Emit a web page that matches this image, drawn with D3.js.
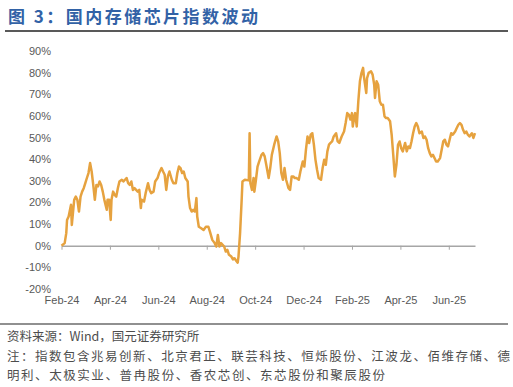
<!DOCTYPE html>
<html><head><meta charset="utf-8">
<script src="https://cdn.jsdelivr.net/npm/d3@7"></script>
<style>
html,body{margin:0;padding:0;background:#fff;}
svg{display:block;}
</style></head>
<body>
<svg id="chart" width="513" height="387"></svg>
<script>
const dates = ["2024-02-14","2024-02-18","2024-02-20","2024-02-21","2024-02-23","2024-02-26","2024-02-27","2024-03-01","2024-03-03","2024-03-05","2024-03-07","2024-03-09","2024-03-11","2024-03-13","2024-03-15","2024-03-17","2024-03-19","2024-03-21","2024-03-23","2024-03-25","2024-03-27","2024-03-29","2024-03-31","2024-04-02","2024-04-04","2024-04-06","2024-04-08","2024-04-11","2024-04-12","2024-04-14","2024-04-16","2024-04-17","2024-04-19","2024-04-21","2024-04-23","2024-04-25","2024-04-27","2024-04-30","2024-05-02","2024-05-04","2024-05-06","2024-05-08","2024-05-10","2024-05-12","2024-05-14","2024-05-16","2024-05-20","2024-05-22","2024-05-24","2024-05-25","2024-05-28","2024-05-30","2024-06-02","2024-06-04","2024-06-06","2024-06-09","2024-06-11","2024-06-14","2024-06-16","2024-06-19","2024-06-21","2024-06-23","2024-06-25","2024-06-27","2024-06-29","2024-07-02","2024-07-04","2024-07-07","2024-07-09","2024-07-11","2024-07-13","2024-07-15","2024-07-17","2024-07-19","2024-07-22","2024-07-23","2024-07-25","2024-07-27","2024-07-29","2024-07-31","2024-08-02","2024-08-03","2024-08-05","2024-08-08","2024-08-11","2024-08-14","2024-08-17","2024-08-19","2024-08-22","2024-08-25","2024-08-27","2024-08-29","2024-08-31","2024-09-02","2024-09-06","2024-09-08","2024-09-10","2024-09-12","2024-09-15","2024-09-17","2024-09-19","2024-09-21","2024-09-23","2024-09-24","2024-09-26","2024-09-28","2024-09-29","2024-10-02","2024-10-07","2024-10-08","2024-10-09","2024-10-11","2024-10-13","2024-10-14","2024-10-16","2024-10-18","2024-10-20","2024-10-23","2024-10-25","2024-10-27","2024-10-29","2024-11-01","2024-11-03","2024-11-05","2024-11-08","2024-11-11","2024-11-13","2024-11-15","2024-11-17","2024-11-19","2024-11-21","2024-11-23","2024-11-26","2024-11-28","2024-11-30","2024-12-02","2024-12-04","2024-12-06","2024-12-09","2024-12-11","2024-12-14","2024-12-16","2024-12-18","2024-12-20","2024-12-22","2024-12-24","2024-12-26","2024-12-28","2024-12-30","2025-01-01","2025-01-03","2025-01-06","2025-01-08","2025-01-10","2025-01-12","2025-01-14","2025-01-16","2025-01-18","2025-01-20","2025-01-22","2025-01-25","2025-01-27","2025-01-29","2025-02-01","2025-02-04","2025-02-06","2025-02-08","2025-02-10","2025-02-12","2025-02-14","2025-02-15","2025-02-17","2025-02-18","2025-02-20","2025-02-22","2025-02-24","2025-02-26","2025-02-28","2025-03-01","2025-03-04","2025-03-05","2025-03-07","2025-03-10","2025-03-12","2025-03-14","2025-03-15","2025-03-17","2025-03-19","2025-03-21","2025-03-23","2025-03-25","2025-03-27","2025-03-29","2025-03-31","2025-04-03","2025-04-05","2025-04-07","2025-04-09","2025-04-11","2025-04-13","2025-04-15","2025-04-17","2025-04-19","2025-04-22","2025-04-24","2025-04-26","2025-04-28","2025-04-30","2025-05-02","2025-05-04","2025-05-06","2025-05-08","2025-05-10","2025-05-13","2025-05-15","2025-05-17","2025-05-19","2025-05-21","2025-05-23","2025-05-25","2025-05-27","2025-05-29","2025-05-31","2025-06-02","2025-06-05","2025-06-07","2025-06-09","2025-06-11","2025-06-13","2025-06-15","2025-06-17","2025-06-19","2025-06-21","2025-06-24","2025-06-26","2025-06-28","2025-06-30","2025-07-02","2025-07-04","2025-07-06","2025-07-08","2025-07-10","2025-07-12","2025-07-15","2025-07-17","2025-07-19"];

const values = [0,1.2,5.8,11.9,13.5,18.9,9.6,21.2,22.7,21.2,15.8,22.7,25,26.6,28.9,31.3,33.6,38.2,34.3,28.1,21.2,28.1,27.4,29.7,28.1,25,21.2,16.6,21.2,21.2,11.9,21.2,25,23.5,22.7,26.6,29.7,30.5,29.7,30.5,31.3,28.9,28.1,29.7,25.8,26.6,25,25.8,17.4,21.2,20.4,24.3,28.9,25.8,24.3,25,29.7,31.3,33.6,35.9,34.3,32.8,25.8,32,34.3,30.5,28.9,28.9,33.6,36.6,35.9,33.6,34.3,31.3,29.7,22.7,17.4,15.8,16.6,15.8,22,13.5,8.8,8.1,7.3,8.8,8.8,6.5,2.7,1.2,-0.4,5,-0.4,1.2,-0.4,-2.7,-1.9,-4.2,-5,-6.3,-5.8,-6.9,-7.8,-5,5.8,21.2,29.7,30.5,30.2,52,28.9,25.8,31.3,25,30.5,36.6,38.9,42,42.8,41.3,37.4,31.3,35.9,42,46.7,50.5,48.2,42.8,33.6,30.5,35.9,30.5,26.6,25.8,32,32,31.3,31.3,30.5,34.3,38.9,36.6,44.4,50.5,47.5,51.3,52,46.7,39.7,35.1,31.3,30.5,35.9,39.7,37.4,43.6,46.7,47.5,48.2,50.5,52,48.2,47.5,50.5,52.8,56.7,61.3,60.6,58.3,61.3,55.1,59.8,61.3,55.1,66.8,76,79.9,82.2,78.3,70.6,77.5,79.9,80.6,79.1,74.4,68.3,76,74.4,66.8,65.2,65.2,59.8,59,59,57.5,51.3,42,32,37.4,46.7,48.2,45.1,43.6,47.5,43.6,45.9,45.1,48.2,52,55.1,56.7,55.1,52,52.8,49.8,50.5,49,45.1,42.8,41.3,42,40.5,38.9,38.9,40.5,44.4,48.2,49,46.7,45.9,49,52,51.3,52.8,54.4,55.9,56.7,55.9,53.6,52,52.8,51.3,50.5,52,49.8,52];

const tickDates = ["2024-02-14","2024-04-15","2024-06-15","2024-08-15","2024-10-15","2024-12-15","2025-02-14","2025-04-16","2025-06-16"];
const tickLabels = ["Feb-24","Apr-24","Jun-24","Aug-24","Oct-24","Dec-24","Feb-25","Apr-25","Jun-25"];
const yTicks = [-20,-10,0,10,20,30,40,50,60,70,80,90];

const titleText = "图 3：国内存储芯片指数波动";
const sourceText = "资料来源：Wind，国元证券研究所";
const noteLines = ["注：指数包含兆易创新、北京君正、联芸科技、恒烁股份、江波龙、佰维存储、德",
                   "明利、太极实业、普冉股份、香农芯创、东芯股份和聚辰股份"];

const parse = d3.timeParse("%Y-%m-%d");
const data = dates.map((d,i)=>({date: parse(d), v: values[i]}));

const svg = d3.select("#chart");
svg.append("rect").attr("width",513).attr("height",387).attr("fill","#fff");

// title
svg.append("text").attr("x",8).attr("y",23)
  .attr("font-family","'Noto Sans CJK SC', sans-serif").attr("font-weight","bold")
  .attr("font-size",17).attr("fill","#3262A6")
  .attr("textLength",250).attr("lengthAdjust","spacing")
  .text(titleText);
svg.append("line").attr("x1",5).attr("x2",508).attr("y1",31).attr("y2",31)
  .attr("stroke","#222").attr("stroke-width",1.5);

const x = d3.scaleTime().domain([parse("2024-02-14"), parse("2025-07-19")]).range([61.5, 475]);
const y = d3.scaleLinear().domain([-20, 90]).range([289, 51]);

// y axis labels
const yAxis = svg.append("g").attr("transform","translate(51,0)")
  .call(d3.axisLeft(y).tickValues(yTicks).tickFormat(d=>d+"%").tickSize(0).tickPadding(0));
yAxis.select(".domain").remove();
yAxis.selectAll("text").attr("font-family","'Liberation Sans', Arial, sans-serif")
  .attr("font-size",11).attr("fill","#595959");

// x axis line and ticks at zero
const xAxisLine = svg.append("g").attr("transform",`translate(0,${y(0)})`)
  .call(d3.axisBottom(x).tickValues(tickDates.map(parse)).tickFormat("").tickSize(4).tickSizeOuter(0));
xAxisLine.select(".domain").attr("stroke","#A6A6A6").attr("stroke-width",1.5);
xAxisLine.selectAll(".tick line").attr("stroke","#A6A6A6").attr("stroke-width",1);

// x labels at bottom
const xLab = svg.append("g").attr("transform","translate(0,296)")
  .call(d3.axisBottom(x).tickValues(tickDates.map(parse)).tickFormat((d,i)=>tickLabels[i]).tickSize(0).tickPadding(0));
xLab.select(".domain").remove();
xLab.selectAll("text").attr("font-family","'Liberation Sans', Arial, sans-serif")
  .attr("font-size",11).attr("fill","#595959");

// line
const line = d3.line().x(d=>x(d.date)).y(d=>y(d.v)).curve(d3.curveLinear);
svg.append("path").datum(data).attr("d",line).attr("fill","none")
  .attr("stroke","#E6A23F").attr("stroke-width",2.5).attr("stroke-linejoin","round");

// footer
svg.append("line").attr("x1",0).attr("x2",508).attr("y1",324).attr("y2",324)
  .attr("stroke","#222").attr("stroke-width",1.2);
const foot = svg.append("g").attr("font-family","'Noto Sans CJK SC', sans-serif")
  .attr("font-size",12.5).attr("fill","#4d4d4d");
foot.append("text").attr("x",7).attr("y",341).text(sourceText);
foot.append("text").attr("x",7).attr("y",361).attr("textLength",503).attr("lengthAdjust","spacing").text(noteLines[0]);
foot.append("text").attr("x",7).attr("y",380).attr("textLength",378).attr("lengthAdjust","spacing").text(noteLines[1]);
</script>
</body></html>
